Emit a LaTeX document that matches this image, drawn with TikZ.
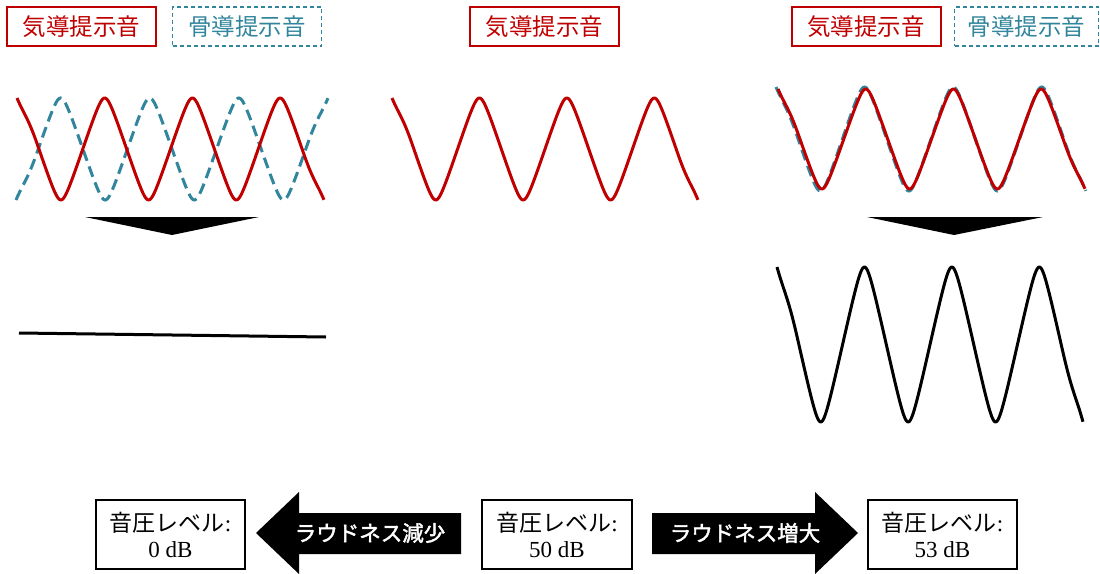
\documentclass[tikz,border=0pt]{standalone}
\usepackage{fontspec}
\setmainfont{Liberation Serif}
\newfontfamily\jp{Noto Sans CJK JP}
\newfontfamily\jpm{Noto Sans CJK JP}[FakeBold=2]
\definecolor{acred}{HTML}{C00000}
\definecolor{bcteal}{HTML}{31859C}
\tikzset{
  declare function={
    Wr(\t)=asin(0.92*cos(90*\t))/asin(0.92);
    ssm(\u)=3*\u^2-2*\u^3;
    gend(\u)=(1-ssm(\u))*(1-\u)+ssm(\u)*Wr(\u);
    wv(\t)=(\t<1) ? gend(min(1,\t)) : ((\t>13) ? (-gend(max(0,min(1,14-\t)))) : Wr(\t));
  },
  acbox/.style={draw=acred, line width=2pt, text=acred, minimum width=149pt, minimum height=39pt, inner sep=0pt, font=\jp\fontsize{23.5}{28}\selectfont},
  bcbox/.style={draw=bcteal, line width=1.5pt, dash pattern=on 4pt off 3pt, text=bcteal, minimum width=149pt, minimum height=39pt, inner sep=0pt, font=\jp\fontsize{23.5}{28}\selectfont},
  acwave/.style={draw=acred, line width=3pt, line join=round},
  bcwave/.style={draw=bcteal, line width=3pt, dash pattern=on 11pt off 6pt},
  blkwave/.style={draw=black, line width=3pt, line join=round},
  levelbox/.style={draw=black, line width=1.2pt, minimum width=149pt, minimum height=69pt, inner sep=0pt, align=center, font=\fontsize{23}{26}\selectfont},
  arrowtext/.style={text=white, font=\jpm\fontsize{21.5}{24}\selectfont, inner sep=0pt}
}
\begin{document}
\begin{tikzpicture}[x=1pt,y=-1pt]
\useasboundingbox (0,0) rectangle (1100,573);
% top labels
\node[acbox] (acL) at (81.5,26.5) {気導提示音};
\node[bcbox] (bcL) at (247,26.5) {骨導提示音};
\node[acbox] (acM) at (544.5,26.5) {気導提示音};
\node[acbox] (acR) at (866,26.5) {気導提示音};
\node[bcbox, minimum width=144pt] (bcR) at (1026.5,26.5) {骨導提示音};
% left waves (anti-phase)
\draw[bcwave] plot[domain=0:14, samples=281, variable=\t] ({16+\t*22.29}, {149 + 51*wv(\t)});
\draw[acwave] plot[domain=0:14, samples=281, variable=\t] ({17+\t*21.93}, {149 - 51*wv(\t)});
% middle wave
\draw[acwave] plot[domain=0:14, samples=281, variable=\t] ({392+\t*21.86}, {149 - 51*wv(\t)});
% right waves (in phase)
\draw[bcwave] plot[domain=0:14, samples=281, variable=\t] ({776+\t*22.14}, {139 - 52*wv(\t)});
\draw[acwave] plot[domain=0:14, samples=281, variable=\t] ({778+\t*21.93}, {139 - 50*wv(\t)});
% down triangles
\fill[black] (85,217) -- (259,217) -- (172,235) -- cycle;
\fill[black] (867,217) -- (1043,217) -- (954,235) -- cycle;
% results
\draw[black, line width=3pt] (19,333) -- (326,337);
\draw[blkwave] plot[domain=0:14, samples=281, variable=\t] ({777+\t*21.86}, {344.5 - 77.5*wv(\t)});
% bottom boxes
\node[levelbox] (lv0) at (170.5,534.5) {{\jp 音圧レベル}:\\0 dB};
\node[levelbox, minimum width=150pt] (lv50) at (557,534.5) {{\jp 音圧レベル}:\\50 dB};
\node[levelbox] (lv53) at (942.5,534.5) {{\jp 音圧レベル}:\\53 dB};
% block arrows
\fill[black] (461,513) -- (299,513) -- (299,492) -- (256,533) -- (299,574) -- (299,554) -- (461,554) -- cycle;
\node[arrowtext] (dec) at (370,533) {ラウドネス減少};
\fill[black] (652,513) -- (815,513) -- (815,492) -- (858,533) -- (815,574) -- (815,554) -- (652,554) -- cycle;
\node[arrowtext] (inc) at (745,533) {ラウドネス増大};
\end{tikzpicture}
\end{document}
